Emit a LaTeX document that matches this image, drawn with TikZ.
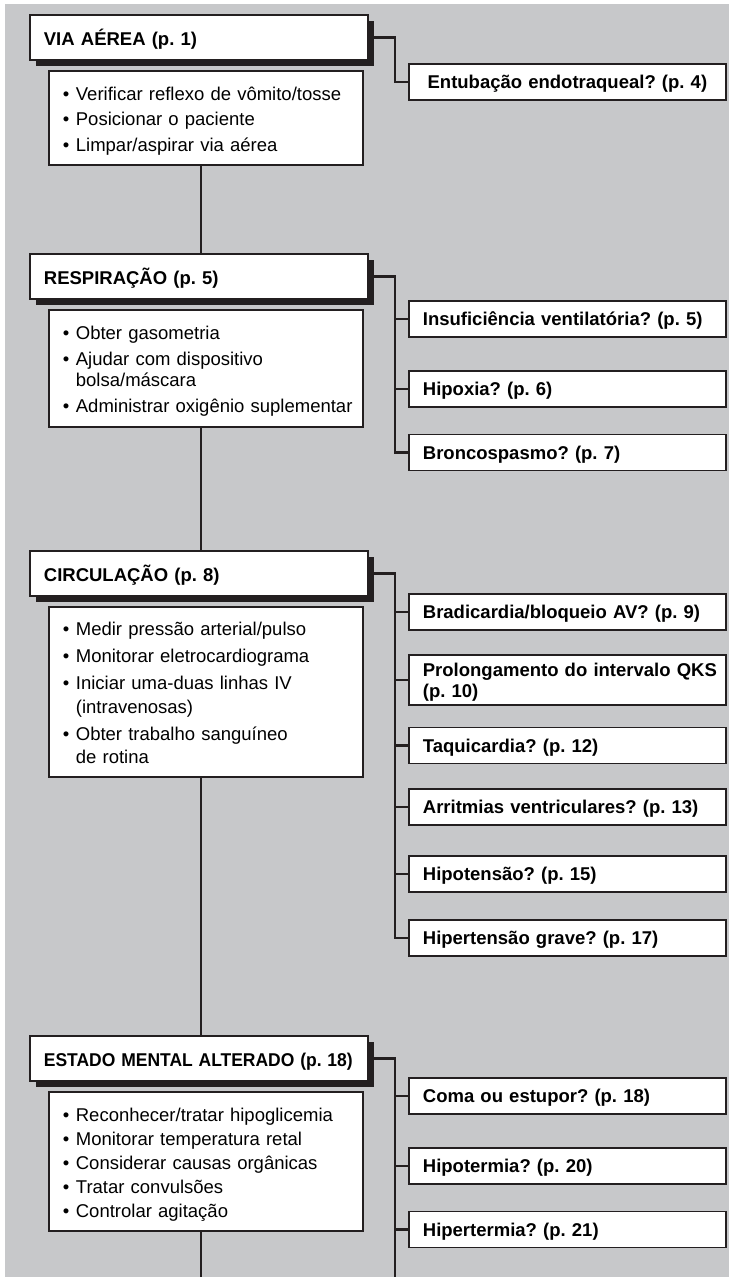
\documentclass[tikz,border=0pt]{standalone}
\usepackage{fontspec}
\setmainfont{Liberation Sans}
\usetikzlibrary{positioning,shadows}
\definecolor{ink}{RGB}{35,31,32}
\definecolor{panel}{RGB}{199,200,202}
\frenchspacing
\newcommand{\tstrut}{\rule{0pt}{29pt}}
\newcommand{\bstrut}{\rule[-14pt]{0pt}{14pt}}
\newcommand{\bul}{\hspace*{7pt}\makebox[13pt][l]{\textbullet}}
\newcommand{\ind}{\hspace*{20pt}}

\tikzset{
	head/.style={draw=ink, line width=1.8pt, fill=white, anchor=north west,
		text width=310pt, inner xsep=14pt, inner ysep=0pt, align=left,
		text height=31pt, text depth=14pt,
		font=\fontsize{18.5}{21}\selectfont\bfseries,
		drop shadow={shadow xshift=6pt, shadow yshift=-6pt, fill=ink, opacity=1}},
	list/.style={draw=ink, line width=1.8pt, fill=white, text width=300pt,
		inner xsep=7pt, inner ysep=0pt, align=left,
		font=\fontsize{18.5}{20.5}\selectfont},
	query/.style={draw=ink, line width=1.8pt, fill=white, anchor=north west,
		text width=289pt, inner xsep=14pt, inner ysep=0pt, align=left,
		text height=24.5pt, text depth=11.5pt,
		font=\fontsize{18.5}{21}\selectfont\bfseries},
	link/.style={draw=ink, line width=2.2pt}
}

\begin{document}
\begin{tikzpicture}[x=1pt, y=-1pt]
	\useasboundingbox (0,0) rectangle (729,1277);
	\fill[panel] (5,4) rectangle (729,1277);
	\coordinate (spine) at (201,0);
	\coordinate (foot) at (0,1277);

	\node[head] (air) at (29,14) {VIA AÉREA (p. 1)};
	\node[list, below right=9.5pt and 19pt of air.south west] (airlist) {\tstrut\bul Verificar reflexo de vômito/tosse\\[5pt]
		\bul Posicionar o paciente\\[5pt]
		\bul Limpar/aspirar via aérea\bstrut};
	\node[query, align=center] (intub) at (408,63) {Entubação endotraqueal? (p. 4)};

	\node[head] (resp) at (29,253) {RESPIRAÇÃO (p. 5)};
	\node[list, below right=9.5pt and 19pt of resp.south west] (resplist) {\tstrut\bul Obter gasometria\\[6pt]
		\bul Ajudar com dispositivo\\
		\ind bolsa/máscara\\[6pt]
		\bul Administrar oxigênio suplementar\bstrut};
	\node[query] (insuf) at (408,300) {Insuficiência ventilatória? (p. 5)};
	\node[query, below=32pt of insuf] (hipox) {Hipoxia? (p. 6)};
	\node[query, below=26pt of hipox] (bronc) {Broncospasmo? (p. 7)};

	\node[head] (circ) at (29,550) {CIRCULAÇÃO (p. 8)};
	\node[list, below right=9pt and 19pt of circ.south west] (circlist) {\tstrut\bul Medir pressão arterial/pulso\\[6.5pt]
		\bul Monitorar eletrocardiograma\\[6.5pt]
		\bul Iniciar uma-duas linhas IV\\[2.8pt]
		\ind (intravenosas)\\[6.5pt]
		\bul Obter trabalho sanguíneo\\[2.8pt]
		\ind de rotina\bstrut};
	\node[query] (brad) at (408,593) {Bradicardia/bloqueio AV? (p. 9)};
	\node[query, below=23pt of brad, text height=22pt, text depth=28pt] (prolong) {\mbox{Prolongamento do intervalo QKS}\\(p. 10)};
	\node[query, below=21pt of prolong] (taqui) {Taquicardia? (p. 12)};
	\node[query, below=24pt of taqui] (arrit) {Arritmias ventriculares? (p. 13)};
	\node[query, below=29pt of arrit] (hipot) {Hipotensão? (p. 15)};
	\node[query, below=26pt of hipot] (hipert) {Hipertensão grave? (p. 17)};

	\node[head] (ment) at (29,1035) {\scalebox{0.945}[1]{ESTADO MENTAL ALTERADO (p. 18)}};
	\node[list, below right=9.5pt and 19pt of ment.south west] (mentlist) {\tstrut\bul Reconhecer/tratar hipoglicemia\\[3.5pt]
		\bul Monitorar temperatura retal\\[3.5pt]
		\bul Considerar causas orgânicas\\[3.5pt]
		\bul Tratar convulsões\\[3.5pt]
		\bul Controlar agitação\bstrut};
	\node[query] (coma) at (408,1077) {Coma ou estupor? (p. 18)};
	\node[query, below=32pt of coma] (hipoterm) {Hipotermia? (p. 20)};
	\node[query, below=26pt of hipoterm] (hiperterm) {Hipertermia? (p. 21)};

	\draw[link] (airlist.south -| spine) -- (resp.north -| spine);
	\draw[link] (resplist.south -| spine) -- (circ.north -| spine);
	\draw[link] (circlist.south -| spine) -- (ment.north -| spine);
	\draw[link] (mentlist.south -| spine) -- (foot -| spine);

	\draw[link] (air.east) -- ++(26,0) |- (intub.west);

	\draw[link] (resp.east) -- ++(26,0) coordinate (rtrunk) |- (bronc.west);
	\draw[link] (rtrunk |- insuf.west) -- (insuf.west);
	\draw[link] (rtrunk |- hipox.west) -- (hipox.west);

	\draw[link] (circ.east) -- ++(26,0) coordinate (ctrunk) |- (hipert.west);
	\draw[link] (ctrunk |- brad.west) -- (brad.west);
	\draw[link] (ctrunk |- prolong.west) -- (prolong.west);
	\draw[link] (ctrunk |- taqui.west) -- (taqui.west);
	\draw[link] (ctrunk |- arrit.west) -- (arrit.west);
	\draw[link] (ctrunk |- hipot.west) -- (hipot.west);

	\draw[link] (ment.east) -- ++(26,0) coordinate (mtrunk) -- (mtrunk |- foot);
	\draw[link] (mtrunk |- coma.west) -- (coma.west);
	\draw[link] (mtrunk |- hipoterm.west) -- (hipoterm.west);
	\draw[link] (mtrunk |- hiperterm.west) -- (hiperterm.west);
\end{tikzpicture}
\end{document}
